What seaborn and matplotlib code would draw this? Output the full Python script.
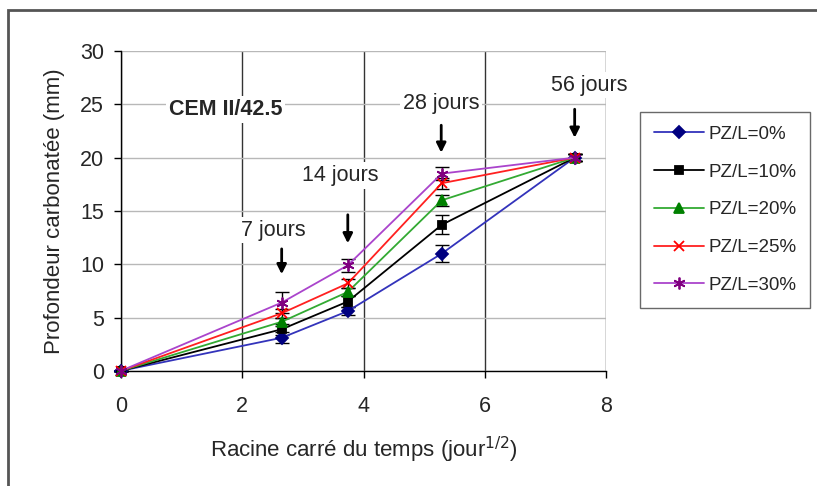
import numpy as np
import pandas as pd
import seaborn as sns
import matplotlib
matplotlib.use('Agg')
import matplotlib.pyplot as plt
from matplotlib.patches import Rectangle

# square root of time (days^0.5) for 0, 7, 14, 28 and 56 days
racine_temps = [0, 2.65, 3.74, 5.29, 7.48]
series = ['PZ/L=0%', 'PZ/L=10%', 'PZ/L=20%', 'PZ/L=25%', 'PZ/L=30%']
pz0 = [0, 3.1, 5.6, 11.0, 20.0]
pz10 = [0, 3.9, 6.5, 13.7, 20.0]
pz20 = [0, 4.6, 7.4, 16.0, 20.0]
pz25 = [0, 5.4, 8.2, 17.6, 20.0]
pz30 = [0, 6.4, 9.9, 18.5, 20.0]
err0 = [0, 0.5, 0.4, 0.8, 0.3]
err10 = [0, 0.5, 0.5, 0.9, 0.3]
err20 = [0, 0.4, 0.4, 0.5, 0.3]
err25 = [0, 0.4, 0.4, 0.5, 0.3]
err30 = [0, 1.0, 0.6, 0.6, 0.3]

annotations = ['7 jours', '14 jours', '28 jours', '56 jours']

sns.set_style('white')
plt.rcParams['font.family'] = ['Liberation Sans', 'DejaVu Sans']

values = [pz0, pz10, pz20, pz25, pz30]
errors = [err0, err10, err20, err25, err30]
df = pd.concat([pd.DataFrame({'t': racine_temps, 'depth': v, 'err': e, 'mix': s})
                for s, v, e in zip(series, values, errors)], ignore_index=True)

line_colors = ['#3333bb', '#000000', '#33aa33', '#ff2020', '#aa44cc']
marker_colors = ['#000080', '#000000', '#008000', '#ff0000', '#800080']
markers = ['D', 's', '^', 'x', (6, 2, 0)]
msizes = [6, 6, 7.5, 7.5, 8.5]

fig = plt.figure(figsize=(8.17, 4.86), dpi=100)
ax = fig.add_axes([0.148, 0.237, 0.594, 0.658])

for i, s in enumerate(series):
    d = df[df['mix'] == s]
    ax.errorbar(d['t'], d['depth'], yerr=d['err'], fmt='none', ecolor='black',
                elinewidth=1, capsize=5, capthick=1, zorder=3, clip_on=False)
    sns.lineplot(data=d, x='t', y='depth', ax=ax, color=line_colors[i], lw=1.3,
                 marker=markers[i], markersize=msizes[i], markerfacecolor=marker_colors[i],
                 markeredgecolor=marker_colors[i], markeredgewidth=1.3, label=s,
                 zorder=4, clip_on=False, errorbar=None)

ax.set_xlim(0, 8)
ax.set_ylim(0, 30)
ax.set_xticks([0, 2, 4, 6, 8])
ax.set_yticks([0, 5, 10, 15, 20, 25, 30])
ax.tick_params(axis='both', labelsize=15.5, length=5, width=1, color='black', direction='out',
               left=True, bottom=True)
ax.tick_params(axis='x', pad=13)
ax.tick_params(axis='y', pad=7)
ax.yaxis.grid(True, color='#b8b8b8', lw=1)
ax.xaxis.grid(True, color='#333333', lw=1)
ax.set_axisbelow(True)
for side in ['top', 'right']:
    ax.spines[side].set_visible(False)
for side in ['left', 'bottom']:
    ax.spines[side].set_color('black')
    ax.spines[side].set_linewidth(1)

ax.set_xlabel('Racine carré du temps (jour$^{1/2}$)', fontsize=16, labelpad=13)
ax.set_ylabel('Profondeur carbonatée (mm)', fontsize=16, labelpad=11)

box = dict(facecolor='white', edgecolor='none', pad=2)
ax.text(1.73, 24.5, 'CEM II/42.5', fontsize=15.5, fontweight='bold', ha='center', va='center', bbox=box)
text_pos = [(2.51, 13.2), (3.61, 18.3), (5.28, 25.1), (7.72, 26.8)]
arrows = [(2.65, 11.7, 8.8), (3.74, 14.9, 11.7), (5.28, 23.3, 20.2), (7.48, 24.8, 21.6)]
for label, (tx, ty), (ax_x, y0, y1) in zip(annotations, text_pos, arrows):
    ax.text(tx, ty, label, fontsize=15.5, ha='center', va='center', bbox=box, zorder=5,
            clip_on=False)
    ax.annotate('', xy=(ax_x, y1), xytext=(ax_x, y0),
                arrowprops=dict(arrowstyle='-|>', color='black', lw=2, mutation_scale=14),
                zorder=5, annotation_clip=False)

leg = ax.legend(loc='upper left', bbox_to_anchor=(0.783, 0.77), bbox_transform=fig.transFigure,
                fontsize=13.5, frameon=True, fancybox=False, borderpad=0.75, labelspacing=1.1,
                handlelength=2.7, handletextpad=0.2, borderaxespad=0)
leg.get_frame().set_edgecolor('#444444')
leg.get_frame().set_linewidth(1)

fig.patches.append(Rectangle((0.0098, -0.05), 1.1, 1.029, transform=fig.transFigure,
                             fill=False, edgecolor='#555555', lw=2))

fig.savefig('out.png', dpi=100)
